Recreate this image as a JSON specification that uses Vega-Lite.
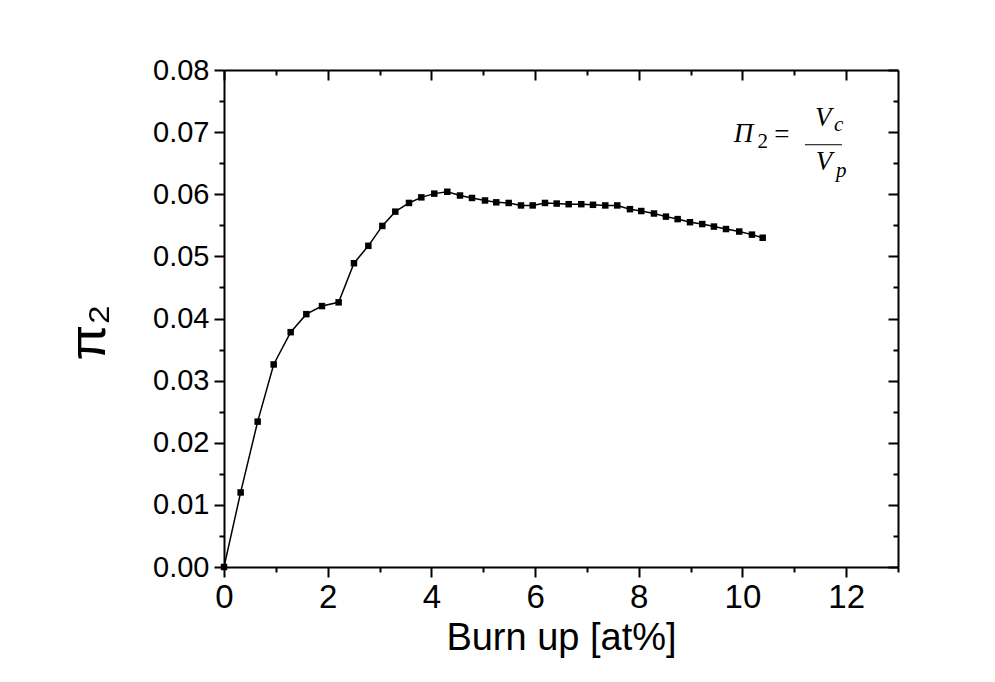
{
  "$schema": "https://vega.github.io/schema/vega-lite/v6.json",
  "width": 674,
  "height": 497,
  "autosize": {"type": "none"},
  "padding": {"left": 224, "top": 70, "right": 97, "bottom": 115},
  "background": "white",
  "config": {
    "view": {"stroke": null},
    "axis": {"grid": false, "labelFlush": false, "labelOverlap": false, "domainColor": "black", "tickColor": "black", "labelColor": "black", "titleColor": "black", "domainWidth": 2, "tickWidth": 2, "labelFont": "Liberation Sans", "titleFont": "Liberation Sans", "titleFontWeight": "normal"}
  },
  "datasets": {
    "pts": [
      {"burnup": 0, "pi2": 0},
      {"burnup": 0.321, "pi2": 0.0120},
      {"burnup": 0.649, "pi2": 0.0234},
      {"burnup": 0.958, "pi2": 0.0326},
      {"burnup": 1.286, "pi2": 0.0378},
      {"burnup": 1.588, "pi2": 0.0407},
      {"burnup": 1.890, "pi2": 0.0420},
      {"burnup": 2.211, "pi2": 0.0426},
      {"burnup": 2.507, "pi2": 0.0489},
      {"burnup": 2.784, "pi2": 0.0517},
      {"burnup": 3.054, "pi2": 0.0549},
      {"burnup": 3.304, "pi2": 0.0572},
      {"burnup": 3.568, "pi2": 0.0586},
      {"burnup": 3.806, "pi2": 0.0595},
      {"burnup": 4.056, "pi2": 0.0601},
      {"burnup": 4.307, "pi2": 0.0604},
      {"burnup": 4.552, "pi2": 0.0598},
      {"burnup": 4.783, "pi2": 0.0594},
      {"burnup": 5.034, "pi2": 0.0590},
      {"burnup": 5.252, "pi2": 0.0587},
      {"burnup": 5.491, "pi2": 0.0586},
      {"burnup": 5.728, "pi2": 0.0582},
      {"burnup": 5.954, "pi2": 0.0582},
      {"burnup": 6.191, "pi2": 0.0586},
      {"burnup": 6.417, "pi2": 0.0585},
      {"burnup": 6.648, "pi2": 0.0584},
      {"burnup": 6.891, "pi2": 0.0584},
      {"burnup": 7.117, "pi2": 0.0583},
      {"burnup": 7.354, "pi2": 0.0582},
      {"burnup": 7.585, "pi2": 0.0582},
      {"burnup": 7.830, "pi2": 0.0576},
      {"burnup": 8.048, "pi2": 0.0573},
      {"burnup": 8.293, "pi2": 0.0569},
      {"burnup": 8.524, "pi2": 0.0564},
      {"burnup": 8.750, "pi2": 0.0560},
      {"burnup": 8.988, "pi2": 0.0555},
      {"burnup": 9.225, "pi2": 0.0552},
      {"burnup": 9.450, "pi2": 0.0548},
      {"burnup": 9.682, "pi2": 0.0544},
      {"burnup": 9.938, "pi2": 0.0540},
      {"burnup": 10.183, "pi2": 0.0535},
      {"burnup": 10.390, "pi2": 0.0530}
    ],
    "mainItalic": [
      {"x": 10.020, "y": 0.06841, "t": "Π"},
      {"x": 11.560, "y": 0.07099, "t": "V"},
      {"x": 11.575, "y": 0.06390, "t": "V"}
    ],
    "mainUpright": [
      {"x": 10.760, "y": 0.06825, "t": "="}
    ],
    "subUpright": [
      {"x": 10.390, "y": 0.06745, "t": "2"}
    ],
    "subItalic": [
      {"x": 11.855, "y": 0.07018, "t": "c"},
      {"x": 11.905, "y": 0.06278, "t": "p"}
    ],
    "bar": [
      {"x": 11.205, "x2": 11.919, "y": 0.06797}
    ]
  },
  "resolve": {"axis": {"x": "independent", "y": "independent"}},
  "layer": [
    {
      "data": {"name": "pts"},
      "mark": {"type": "line", "color": "black", "strokeWidth": 1.5},
      "encoding": {
        "x": {"field": "burnup", "type": "quantitative",
              "scale": {"domain": [0, 13], "nice": false, "zero": false},
              "axis": {"orient": "bottom", "values": [0, 2, 4, 6, 8, 10, 12], "tickSize": 10, "labelPadding": 4, "labelFontSize": 33, "title": "Burn up [at%]", "titleFontSize": 38, "titlePadding": 5}},
        "y": {"field": "pi2", "type": "quantitative",
              "scale": {"domain": [0, 0.08], "nice": false, "zero": false},
              "axis": {"orient": "left", "values": [0, 0.01, 0.02, 0.03, 0.04, 0.05, 0.06, 0.07, 0.08], "format": ".2f", "tickSize": 10, "labelPadding": 5, "labelFontSize": 29, "title": "π₂", "titleFontSize": 52, "titlePadding": 37, "titleY": 262}}
      }
    },
    {
      "data": {"name": "pts"},
      "mark": {"type": "square", "color": "black", "size": 42, "opacity": 1},
      "encoding": {
        "x": {"field": "burnup", "type": "quantitative",
              "scale": {"domain": [0, 13], "nice": false, "zero": false},
              "axis": {"orient": "bottom", "values": [1, 3, 5, 7, 9, 11, 13], "tickSize": 5, "labels": false, "domain": false, "title": null}},
        "y": {"field": "pi2", "type": "quantitative",
              "scale": {"domain": [0, 0.08], "nice": false, "zero": false},
              "axis": {"orient": "left", "values": [0.005, 0.015, 0.025, 0.035, 0.045, 0.055, 0.065, 0.075], "tickSize": 5, "labels": false, "domain": false, "title": null}}
      }
    },
    {
      "data": {"name": "pts"},
      "mark": {"type": "point", "opacity": 0},
      "encoding": {
        "x": {"field": "burnup", "type": "quantitative",
              "scale": {"domain": [0, 13], "nice": false, "zero": false},
              "axis": {"orient": "top", "values": [0, 2, 4, 6, 8, 10, 12], "tickSize": -10, "labels": false, "title": null}},
        "y": {"field": "pi2", "type": "quantitative",
              "scale": {"domain": [0, 0.08], "nice": false, "zero": false},
              "axis": {"orient": "right", "values": [0, 0.01, 0.02, 0.03, 0.04, 0.05, 0.06, 0.07, 0.08], "tickSize": -10, "labels": false, "title": null}}
      }
    },
    {
      "data": {"name": "pts"},
      "mark": {"type": "point", "opacity": 0},
      "encoding": {
        "x": {"field": "burnup", "type": "quantitative",
              "scale": {"domain": [0, 13], "nice": false, "zero": false},
              "axis": {"orient": "top", "values": [1, 3, 5, 7, 9, 11], "tickSize": -5, "labels": false, "domain": false, "title": null}},
        "y": {"field": "pi2", "type": "quantitative",
              "scale": {"domain": [0, 0.08], "nice": false, "zero": false},
              "axis": {"orient": "right", "values": [0.005, 0.015, 0.025, 0.035, 0.045, 0.055, 0.065, 0.075], "tickSize": -5, "labels": false, "domain": false, "title": null}}
      }
    },
    {
      "data": {"name": "mainItalic"},
      "mark": {"type": "text", "font": "Liberation Serif", "fontStyle": "italic", "fontSize": 27, "align": "center", "baseline": "alphabetic", "color": "black"},
      "encoding": {
        "x": {"field": "x", "type": "quantitative", "axis": null},
        "y": {"field": "y", "type": "quantitative", "axis": null},
        "text": {"field": "t"}
      }
    },
    {
      "data": {"name": "mainUpright"},
      "mark": {"type": "text", "font": "Liberation Serif", "fontSize": 27, "align": "center", "baseline": "alphabetic", "color": "black"},
      "encoding": {
        "x": {"field": "x", "type": "quantitative", "axis": null},
        "y": {"field": "y", "type": "quantitative", "axis": null},
        "text": {"field": "t"}
      }
    },
    {
      "data": {"name": "subUpright"},
      "mark": {"type": "text", "font": "Liberation Serif", "fontSize": 21, "align": "center", "baseline": "alphabetic", "color": "black"},
      "encoding": {
        "x": {"field": "x", "type": "quantitative", "axis": null},
        "y": {"field": "y", "type": "quantitative", "axis": null},
        "text": {"field": "t"}
      }
    },
    {
      "data": {"name": "subItalic"},
      "mark": {"type": "text", "font": "Liberation Serif", "fontStyle": "italic", "fontSize": 21, "align": "center", "baseline": "alphabetic", "color": "black"},
      "encoding": {
        "x": {"field": "x", "type": "quantitative", "axis": null},
        "y": {"field": "y", "type": "quantitative", "axis": null},
        "text": {"field": "t"}
      }
    },
    {
      "data": {"name": "bar"},
      "mark": {"type": "rule", "color": "black", "strokeWidth": 1},
      "encoding": {
        "x": {"field": "x", "type": "quantitative", "axis": null},
        "x2": {"field": "x2"},
        "y": {"field": "y", "type": "quantitative", "axis": null}
      }
    }
  ]
}
